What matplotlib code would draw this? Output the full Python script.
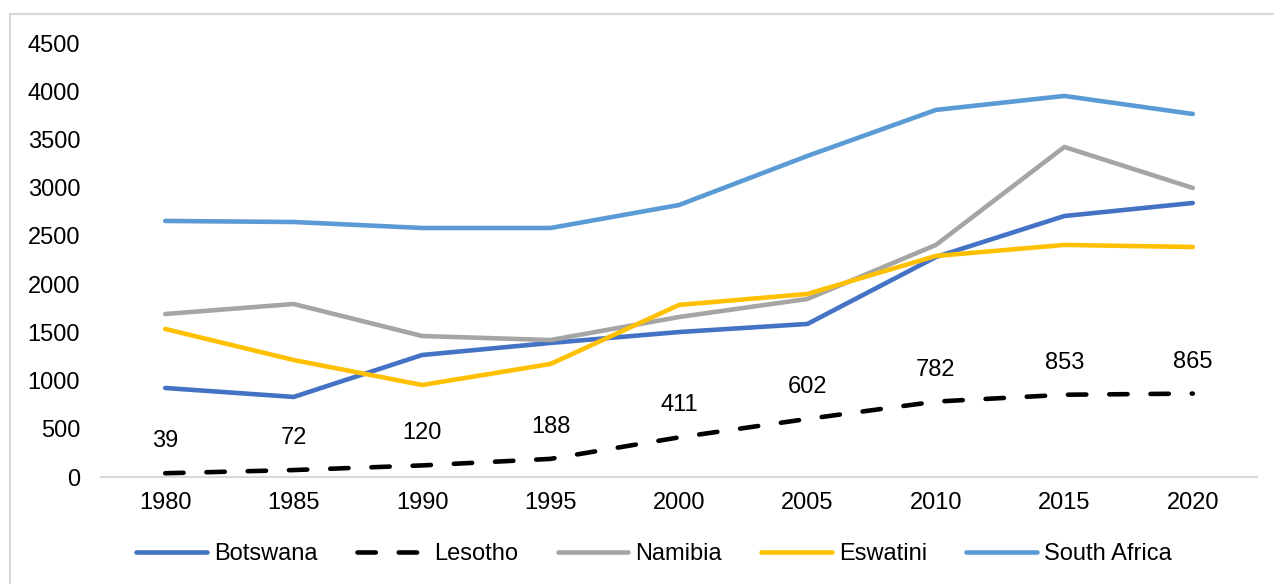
import numpy as np
import matplotlib.pyplot as plt
from matplotlib.lines import Line2D

plt.rcParams['font.family'] = ['Liberation Sans', 'DejaVu Sans']

years = ['1980', '1985', '1990', '1995', '2000', '2005', '2010', '2015', '2020']
botswana = [923, 830, 1265, 1390, 1503, 1587, 2281, 2706, 2841]
lesotho = [39, 72, 120, 188, 411, 602, 782, 853, 865]
namibia = [1690, 1794, 1462, 1420, 1659, 1846, 2406, 3422, 2997]
eswatini = [1535, 1213, 954, 1172, 1784, 1898, 2292, 2406, 2385]
south_africa = [2655, 2644, 2582, 2582, 2820, 3329, 3806, 3951, 3764]

fig = plt.figure(figsize=(12.74, 5.84), dpi=100)
ax = fig.add_axes([101 / 1274, 1 - 477 / 584, (1257 - 101) / 1274, (477 - 43) / 584])

# thin frame around the chart area (only top and left edges fall inside)
fig.add_artist(Line2D([10 / 1274, 1], [1 - 14 / 584, 1 - 14 / 584],
                      transform=fig.transFigure, color='#d9d9d9', lw=1.5))
fig.add_artist(Line2D([10 / 1274, 10 / 1274], [0, 1 - 14 / 584],
                      transform=fig.transFigure, color='#d9d9d9', lw=1.5))

x = np.arange(len(years))
lw = 3.3
fs = 17
ax.plot(x, botswana, color='#4472C4', lw=lw, solid_capstyle='round', label='Botswana')
ax.plot(x, lesotho, color='black', lw=lw, dashes=(4.0, 5.0), dash_capstyle='round',
        label='Lesotho')
ax.plot(x, namibia, color='#A5A5A5', lw=lw, solid_capstyle='round', label='Namibia')
ax.plot(x, eswatini, color='#FFC000', lw=lw, solid_capstyle='round', label='Eswatini')
ax.plot(x, south_africa, color='#5B9BD5', lw=lw, solid_capstyle='round',
        label='South Africa')

for xi, v in zip(x, lesotho):
    ax.annotate(str(v), (xi, v), xytext=(0, 23), textcoords='offset points',
                ha='center', va='center', fontsize=fs)

ax.set_xlim(-0.5, len(years) - 0.5)
ax.set_ylim(0, 4500)
ax.set_yticks(np.arange(0, 4501, 500))
ax.set_xticks(x)
ax.set_xticklabels(years)
ax.tick_params(axis='both', length=0, labelsize=fs)
ax.tick_params(axis='y', pad=15)
ax.tick_params(axis='x', pad=11)
for side in ['top', 'right', 'left']:
    ax.spines[side].set_visible(False)
ax.spines['bottom'].set_color('#d9d9d9')
ax.spines['bottom'].set_linewidth(1.5)

fig.legend(loc='center', bbox_to_anchor=(654 / 1274, 1 - 554 / 584), ncol=5,
           frameon=False, fontsize=fs, handlelength=3.0, columnspacing=1.65,
           handletextpad=0.3)

fig.savefig('out.png', dpi=100)
